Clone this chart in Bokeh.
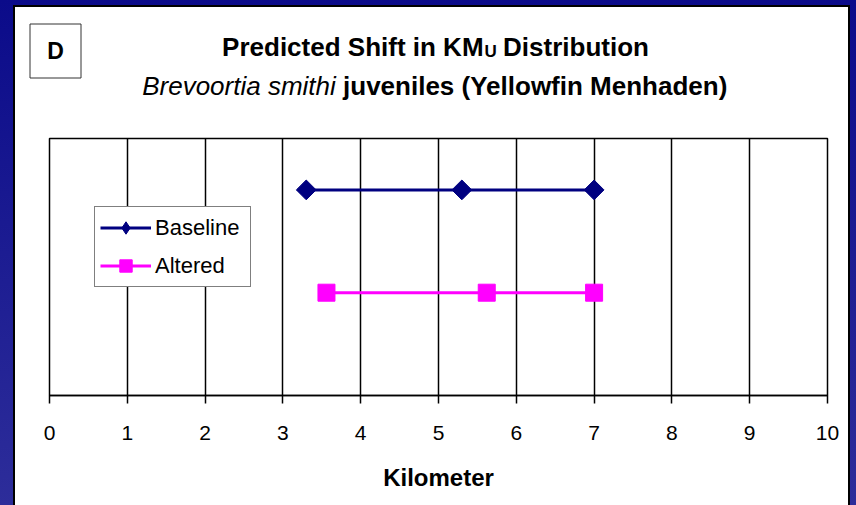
import numpy as np
from bokeh.plotting import figure
from bokeh.layouts import column, row
from bokeh.models import (Range1d, Label, Legend, LegendItem, BoxAnnotation,
                          FixedTicker, GlobalInlineStyleSheet, Spacer)
from bokeh.embed import file_html
from bokeh.resources import INLINE

# ---------------- data ----------------
series_names = ["Baseline", "Altered"]
baseline_km = [3.3, 5.3, 7.0]
baseline_level = [2, 2, 2]
altered_km = [3.56, 5.62, 7.0]
altered_level = [1, 1, 1]
x_ticks = [0, 1, 2, 3, 4, 5, 6, 7, 8, 9, 10]
x_tick_labels = [str(t) for t in x_ticks]
x_axis_title = "Kilometer"
panel_letter = "D"
title1_main = "Predicted Shift in KM"
title1_sub = "U"
title1_end = "Distribution"
title2_italic = "Brevoortia smithi"
title2_rest = "juveniles (Yellowfin Menhaden)"

FONT = "Liberation Sans"
NAVY = "#000080"
MAGENTA = "#FF00FF"

# approximate Arial advance widths (per 1000 em), used to centre mixed-style title lines
BOLD = {' ': 278, '(': 333, ')': 333, 'A': 722, 'B': 722, 'D': 722, 'K': 722, 'M': 833,
        'P': 667, 'S': 667, 'U': 722, 'Y': 667, 'a': 556, 'b': 611, 'c': 556, 'd': 611,
        'e': 556, 'f': 333, 'h': 611, 'i': 278, 'j': 278, 'l': 278, 'm': 889, 'n': 611,
        'o': 611, 'r': 389, 's': 556, 't': 333, 'u': 611, 'v': 556, 'w': 778}
REG = {' ': 278, 'B': 667, 'r': 333, 'e': 556, 'v': 500, 'o': 556, 't': 278, 'i': 222,
       'a': 556, 's': 500, 'm': 833, 'h': 556}


def tw(s, table, size):
    return sum(table.get(c, 556) for c in s) * size / 1000.0


PANEL_W = 833
HEAD_H = 123
CHART_H = 375

# ---------------- header (titles + panel letter) ----------------
head = figure(width=PANEL_W, height=HEAD_H, output_backend="svg", toolbar_location=None,
              title=None, x_axis_location=None, y_axis_location=None,
              x_range=Range1d(0, 1), y_range=Range1d(0, 1), min_border=0,
              min_border_left=0, min_border_right=0, min_border_top=0, min_border_bottom=0,
              outline_line_color=None, border_fill_color="white",
              background_fill_color="white", frame_align=False)
head.grid.visible = False

cx = 420
fs, fsub = 26, 17
sp = tw(" ", BOLD, fs)
w1 = tw(title1_main, BOLD, fs)
wu = tw(title1_sub, BOLD, fsub)
w3 = tw(title1_end, BOLD, fs)
x0 = cx - (w1 + wu + sp + w3) / 2
common = dict(x_units="canvas", y_units="canvas", text_font=FONT, text_color="black",
              text_baseline="alphabetic")
y1, y2 = 39, 78
head.add_layout(Label(x=x0 + w1, y=y1, text=title1_main, text_align="right",
                      text_font_size=f"{fs}px", text_font_style="bold", **common))
head.add_layout(Label(x=x0 + w1 + 1, y=y1 + 5, text=title1_sub, text_align="left",
                      text_font_size=f"{fsub}px", text_font_style="bold", **common))
head.add_layout(Label(x=x0 + w1 + wu + sp, y=y1, text=title1_end, text_align="left",
                      text_font_size=f"{fs}px", text_font_style="bold", **common))

wi = tw(title2_italic, REG, fs)
wr = tw(title2_rest, BOLD, fs)
x1 = cx - (wi + sp + wr) / 2
head.add_layout(Label(x=x1 + wi, y=y2, text=title2_italic, text_align="right",
                      text_font_size=f"{fs}px", text_font_style="italic", **common))
head.add_layout(Label(x=x1 + wi + sp, y=y2, text=title2_rest, text_align="left",
                      text_font_size=f"{fs}px", text_font_style="bold", **common))

head.add_layout(BoxAnnotation(left=14.5, right=65.5, top=16.5, bottom=70.5,
                              left_units="canvas", right_units="canvas",
                              top_units="canvas", bottom_units="canvas",
                              fill_color="white", fill_alpha=1,
                              line_color="#333333", line_alpha=1, line_width=1))
head.add_layout(Label(x=40, y=43, text=panel_letter, x_units="canvas", y_units="canvas",
                      text_align="center", text_baseline="middle", text_font=FONT,
                      text_font_size="23px", text_font_style="bold", text_color="black"))

# ---------------- chart ----------------
p = figure(width=PANEL_W, height=CHART_H, output_backend="svg", toolbar_location=None,
           x_range=Range1d(0, 10), y_range=Range1d(0, 2.5), y_axis_location=None,
           title=None, min_border_left=34, min_border_right=21,
           min_border_top=8, min_border_bottom=110,
           border_fill_color="white", background_fill_color="white",
           outline_line_color="black", outline_line_width=1.5, frame_align=False)

ax = p.xaxis[0]
ax.ticker = FixedTicker(ticks=x_ticks)
ax.major_label_overrides = {t: l for t, l in zip(x_ticks, x_tick_labels)}
ax.axis_line_color = "black"
ax.axis_line_width = 1.5
ax.major_tick_line_color = "black"
ax.major_tick_line_width = 1.5
ax.major_tick_out = 8
ax.major_tick_in = 0
ax.minor_tick_line_color = None
ax.major_label_text_font = FONT
ax.major_label_text_font_size = "21px"
ax.major_label_text_color = "black"
ax.major_label_standoff = 22
ax.axis_label = x_axis_title
ax.axis_label_text_font = FONT
ax.axis_label_text_font_size = "24px"
ax.axis_label_text_font_style = "bold"
ax.axis_label_text_color = "black"
ax.axis_label_standoff = 21

p.xgrid.ticker = FixedTicker(ticks=x_ticks)
p.xgrid.grid_line_color = "black"
p.xgrid.grid_line_width = 1.5
p.ygrid.visible = False

r1 = p.line(baseline_km, baseline_level, line_color=NAVY, line_width=3)
# diamond used for the legend key (legend glyphs are drawn unrotated); hidden under s1
s1_key = p.scatter(baseline_km, baseline_level, marker="diamond", size=13,
                   fill_color=NAVY, line_color=NAVY)
s1 = p.scatter(baseline_km, baseline_level, marker="square", angle=np.pi / 4, size=14,
               fill_color=NAVY, line_color=NAVY)
r2 = p.line(altered_km, altered_level, line_color=MAGENTA, line_width=3)
s2 = p.scatter(altered_km, altered_level, marker="square", size=17,
               fill_color=MAGENTA, line_color=MAGENTA)

legend = Legend(items=[LegendItem(label=series_names[0], renderers=[r1, s1_key]),
                       LegendItem(label=series_names[1], renderers=[r2, s2])],
                location=(45, 108), orientation="vertical",
                label_text_font=FONT, label_text_font_size="22px", label_text_color="black",
                glyph_width=51, glyph_height=31, label_height=31, label_width=90,
                spacing=7, padding=5, margin=0, label_standoff=4,
                border_line_color="black", border_line_width=1.5,
                background_fill_color="white", background_fill_alpha=1)
p.add_layout(legend)

panel = column(head, p, spacing=0,
               styles={"box-shadow": "0 0 0 2px #000000", "background": "#ffffff"})
page = column(Spacer(height=7, width=10), row(Spacer(width=15, height=10), panel, spacing=0),
              spacing=0)
page.stylesheets = [GlobalInlineStyleSheet(
    css="html{background:linear-gradient(to bottom,#0b0b8a 0%,#2d2d9a 100%);min-height:100%;}")]

open("out.html", "w").write(file_html(page, INLINE))
